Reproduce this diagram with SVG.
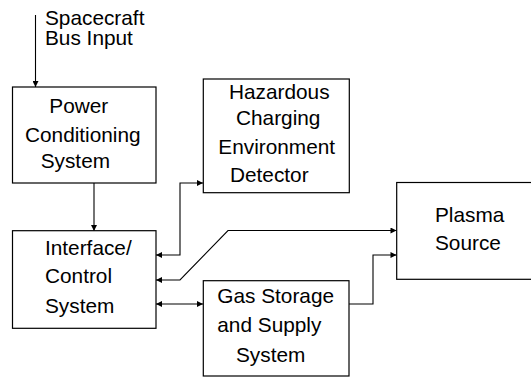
<svg xmlns="http://www.w3.org/2000/svg" width="531" height="377" viewBox="0 0 531 377">
<defs>
<style>
.box{fill:#fff;stroke:#000;stroke-width:1.2}
.t{font-family:"Liberation Sans",Arial,sans-serif;font-size:20.8px;fill:#000}
.c{fill:none;stroke:#000;stroke-width:1.1}
</style>
<marker id="ah" viewBox="0 0 10 10" refX="10" refY="5" markerWidth="9" markerHeight="6" markerUnits="userSpaceOnUse" orient="auto-start-reverse">
<path d="M0,0 L10,5 L0,10 z" fill="#000"/>
</marker>
</defs>
<rect width="531" height="377" fill="#fff"/>
<g id="connectors">
<path class="c" d="M35.5,15 V87" marker-end="url(#ah)"/>
<path class="c" d="M94,183 V231" marker-end="url(#ah)"/>
<path class="c" d="M156,255 H180 V183 H203" marker-start="url(#ah)" marker-end="url(#ah)"/>
<path class="c" d="M156,280 H180 L228,230.5 H396.5" marker-start="url(#ah)" marker-end="url(#ah)"/>
<path class="c" d="M156,304 H203" marker-start="url(#ah)" marker-end="url(#ah)"/>
<path class="c" d="M349,304 H373 V255 H396.5" marker-end="url(#ah)"/>
</g>
<g id="input-label">
<text class="t" x="45" y="24.5">Spacecraft</text>
<text class="t" x="45" y="45">Bus Input</text>
</g>
<g id="power">
<rect class="box" x="12.5" y="87" width="143.5" height="96"/>
<text class="t" x="49.3" y="113">Power</text>
<text class="t" x="25" y="141.5">Conditioning</text>
<text class="t" x="40.7" y="168">System</text>
</g>
<g id="hazard">
<rect class="box" x="203.3" y="79" width="146" height="113.7"/>
<text class="t" x="229" y="99.3">Hazardous</text>
<text class="t" x="236" y="125">Charging</text>
<text class="t" x="218.3" y="154.3">Environment</text>
<text class="t" x="230" y="181.7">Detector</text>
</g>
<g id="interface">
<rect class="box" x="12.5" y="230.7" width="143.5" height="97.6"/>
<text class="t" x="45" y="255">Interface/</text>
<text class="t" x="45" y="283">Control</text>
<text class="t" x="45" y="312.5">System</text>
</g>
<g id="plasma">
<rect class="box" x="396.7" y="182.5" width="136" height="96.8"/>
<text class="t" x="435" y="222.3">Plasma</text>
<text class="t" x="435" y="250">Source</text>
</g>
<g id="gas">
<rect class="box" x="203.3" y="280.7" width="145.7" height="95.3"/>
<text class="t" x="217.3" y="303.3">Gas Storage</text>
<text class="t" x="217.3" y="331.7">and Supply</text>
<text class="t" x="236" y="361.7">System</text>
</g>
</svg>
